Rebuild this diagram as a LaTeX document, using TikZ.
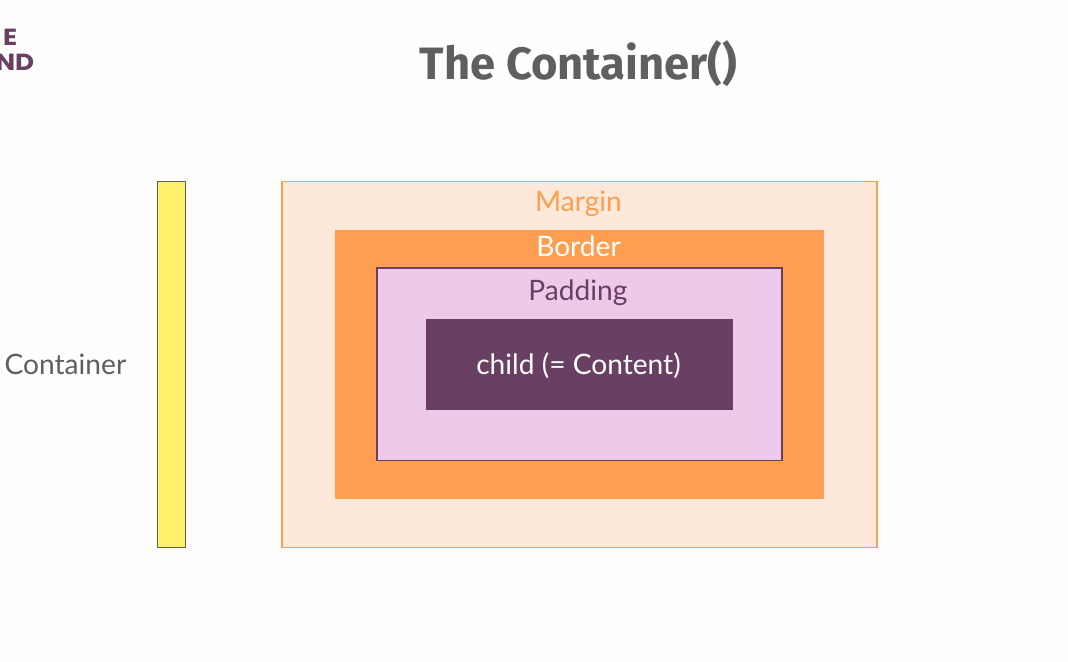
\documentclass[tikz,border=0pt]{standalone}
\usepackage{fontspec}
\setmainfont{Lato}
\newfontfamily\titlefont{Fira Sans}
\newfontfamily\logofont{Poppins}
\definecolor{bgc}{HTML}{FEFEFD}
\definecolor{grayt}{HTML}{5F5F5D}
\definecolor{plum}{HTML}{694063}
\definecolor{orng}{HTML}{FE9E51}
\definecolor{peach}{HTML}{FEE8D9}
\definecolor{lilac}{HTML}{EDC9EA}
\definecolor{yel}{HTML}{FFF06A}
\tikzset{
  lab/.style={inner sep=0pt,font=\fontsize{21.1}{25}\selectfont},
  logotxt/.style={anchor=base east,inner sep=0pt,text=plum,xscale=1.12,transform shape,font=\logofont\bfseries\fontsize{17.5}{20}\selectfont},
  rule/.style={line width=1.2pt},
}
\begin{document}
\begin{tikzpicture}[x=0.75pt,y=-0.75pt]
\useasboundingbox (0,0) rectangle (1068,661);
\fill[bgc] (0,0) rectangle (1068,661);
% logo fragment
\node[logotxt] (logoa) at (17.5,45) {E};
\node[logotxt] (logob) at (34.5,70.3) {ND};
% title
\node[inner sep=0pt,anchor=base,text=grayt,font=\titlefont\bfseries\fontsize{34}{40}\selectfont] (title) at (578.5,79.5) {The Container()};
% boxes
\draw[draw=grayt,fill=yel,rule] (157.5,181.5) rectangle (185.5,547.5);
\draw[draw=orng,fill=peach,rule] (282,181.5) rectangle (877,547.5);
\fill[orng] (335,229.5) rectangle (824,499);
\draw[draw=plum,fill=lilac,rule] (377,268) rectangle (782,460.5);
\fill[plum] (426,319) rectangle (733,409.5);
% labels
\node[lab,anchor=base east,text=grayt] (contlab) at (126.5,374) {Container};
\node[lab,anchor=base,text=orng] (marginlab) at (578.5,211) {Margin};
\node[lab,anchor=base,text=white] (borderlab) at (578.5,256.5) {Border};
\node[lab,anchor=base,text=plum] (paddinglab) at (578,300) {Padding};
\node[lab,anchor=base,text=white] (childlab) at (578.5,374) {child (= Content)};
\end{tikzpicture}
\end{document}
